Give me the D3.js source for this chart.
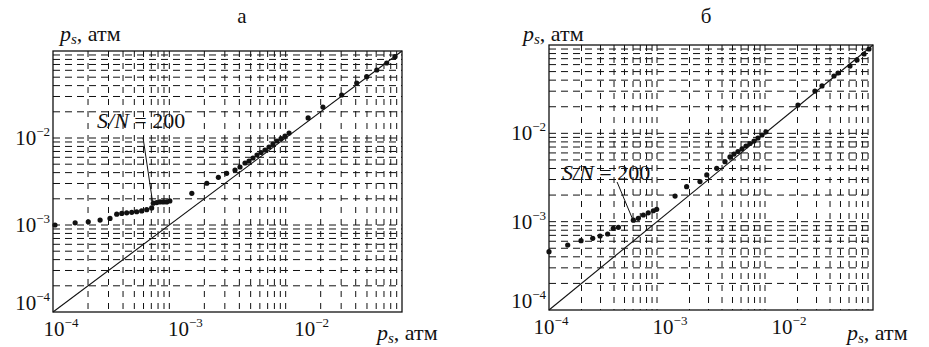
<!DOCTYPE html>
<html>
<head>
<meta charset="utf-8">
<script src="https://cdn.jsdelivr.net/npm/d3@7"></script>
<style>
  body { margin: 0; background: #fff; }
</style>
</head>
<body>
<div id="chart"></div>
<script>
var W = 929, H = 347;
var serif = "Liberation Serif";

// axis range and tick labels (both axes, both panels)
var domain = [1e-4, 1e-1];
var tickValues = [1e-4, 1e-3, 1e-2];
var tickExps = ["\u22124", "\u22123", "\u22122"];

// panel а: measured p_s (y) vs true p_s (x)
var aX = [1.04e-4, 1.55e-4, 2.01e-4, 2.54e-4, 3.09e-4, 3.53e-4, 3.90e-4, 4.30e-4, 4.75e-4, 5.24e-4,
  5.78e-4, 6.39e-4, 7.05e-4, 7.28e-4, 7.79e-4, 8.32e-4, 8.88e-4, 9.49e-4, 1.01e-3,
  1.56e-3, 2.10e-3, 2.64e-3, 3.11e-3, 3.67e-3,
  4.05e-3, 4.47e-3, 4.84e-3, 5.24e-3, 5.67e-3, 6.14e-3, 6.64e-3, 7.19e-3, 7.78e-3, 8.43e-3,
  9.12e-3, 9.87e-3, 1.07e-2, 1.56e-2, 2.09e-2, 3.03e-2, 4.08e-2, 4.97e-2, 6.07e-2, 7.39e-2, 8.71e-2];
var aY = [1.00e-3, 1.06e-3, 1.09e-3, 1.14e-3, 1.19e-3, 1.33e-3, 1.36e-3, 1.38e-3, 1.40e-3, 1.42e-3,
  1.45e-3, 1.50e-3, 1.57e-3, 1.78e-3, 1.81e-3, 1.84e-3, 1.84e-3, 1.84e-3, 1.89e-3,
  2.31e-3, 3.02e-3, 3.53e-3, 3.93e-3, 4.29e-3,
  4.64e-3, 5.16e-3, 5.44e-3, 5.89e-3, 6.38e-3, 6.81e-3, 7.28e-3, 7.88e-3, 8.53e-3, 9.24e-3,
  9.86e-3, 1.05e-2, 1.14e-2, 1.70e-2, 2.27e-2, 3.12e-2, 4.29e-2, 5.07e-2, 6.05e-2, 7.28e-2, 8.60e-2];

// panel б
var bX = [1.00e-4, 1.49e-4, 1.98e-4, 2.54e-4, 2.97e-4, 3.49e-4, 3.94e-4, 4.39e-4, 6.04e-4, 6.71e-4,
  7.47e-4, 8.30e-4, 9.25e-4, 9.93e-4, 1.47e-3, 1.88e-3, 2.50e-3, 2.89e-3, 3.57e-3, 4.26e-3,
  4.74e-3, 5.16e-3, 5.62e-3, 6.12e-3, 6.67e-3, 7.26e-3, 7.91e-3, 8.61e-3, 9.38e-3, 1.02e-2,
  2.02e-2, 2.90e-2, 3.37e-2, 4.35e-2, 4.74e-2, 6.12e-2, 7.11e-2, 8.26e-2, 9.18e-2];
var bY = [4.57e-4, 5.44e-4, 6.09e-4, 6.48e-4, 6.88e-4, 7.25e-4, 8.41e-4, 8.63e-4, 1.04e-3, 1.09e-3,
  1.19e-3, 1.26e-3, 1.33e-3, 1.38e-3, 1.95e-3, 2.49e-3, 2.84e-3, 3.38e-3, 4.02e-3, 4.78e-3,
  5.40e-3, 5.83e-3, 6.23e-3, 6.65e-3, 7.19e-3, 7.67e-3, 8.19e-3, 8.86e-3, 9.58e-3, 1.04e-2,
  2.09e-2, 3.01e-2, 3.44e-2, 4.46e-2, 4.82e-2, 5.78e-2, 6.76e-2, 7.91e-2, 9.01e-2];

var panels = [
  { name: "\u0430", xs: aX, ys: aY, left: 53, top: 51, right: 402, bottom: 312,
    labelDx: [8, 16, 26], yTitleX: 60, xTitleX: 377, titleX: 242,
    note: [2.39e-4, 1.3e-2], arrow: [[5.95e-4, 1e-2], [7.2e-4, 1.79e-3]] },
  { name: "\u0431", xs: bX, ys: bY, left: 549, top: 45, right: 873, bottom: 310,
    labelDx: [2, 13, 24], yTitleX: 523, xTitleX: 847, titleX: 706,
    note: [1.32e-4, 2.96e-3], arrow: [[4.27e-4, 2.81e-3], [6.0e-4, 1.04e-3]] }
];

var svg = d3.select("#chart").append("svg")
  .attr("width", W)
  .attr("height", H);

panels.forEach(function(p) {
  var x = d3.scaleLog().domain(domain).range([p.left, p.right]);
  var y = d3.scaleLog().domain(domain).range([p.bottom, p.top]);
  var g = svg.append("g");

  // dashed grid on every 1..9 x 10^k
  var gridVals = x.ticks().filter(function(v) { return v > domain[0] * 1.01 && v < domain[1] * 0.99; });
  g.selectAll(".vgrid").data(gridVals).enter().append("line")
    .attr("class", "vgrid")
    .attr("x1", function(d) { return x(d); })
    .attr("x2", function(d) { return x(d); })
    .attr("y1", p.top).attr("y2", p.bottom)
    .attr("stroke", "#111").attr("stroke-width", 1)
    .attr("stroke-dasharray", "6,6");
  g.selectAll(".hgrid").data(gridVals).enter().append("line")
    .attr("class", "hgrid")
    .attr("y1", function(d) { return y(d); })
    .attr("y2", function(d) { return y(d); })
    .attr("x1", p.left).attr("x2", p.right)
    .attr("stroke", "#111").attr("stroke-width", 1)
    .attr("stroke-dasharray", "7,5");

  // frame
  g.append("rect")
    .attr("x", p.left).attr("y", p.top)
    .attr("width", p.right - p.left).attr("height", p.bottom - p.top)
    .attr("fill", "none").attr("stroke", "#111").attr("stroke-width", 1.3);

  // y = x line
  g.append("line")
    .attr("x1", x(domain[0])).attr("y1", y(domain[0]))
    .attr("x2", x(domain[1])).attr("y2", y(domain[1]))
    .attr("stroke", "#111").attr("stroke-width", 1.1);

  // points
  g.selectAll(".dot").data(d3.range(p.xs.length)).enter().append("circle")
    .attr("class", "dot")
    .attr("cx", function(i) { return x(p.xs[i]); })
    .attr("cy", function(i) { return y(p.ys[i]); })
    .attr("r", 2.6)
    .attr("fill", "#111");

  // x tick labels
  var xl = g.selectAll(".xl").data(tickValues).enter().append("text")
    .attr("class", "xl")
    .attr("x", function(d, i) { return x(d) + p.labelDx[i]; })
    .attr("y", p.bottom + 24)
    .attr("text-anchor", "middle")
    .attr("font-family", serif)
    .attr("font-size", 21)
    .attr("fill", "#111");
  xl.append("tspan").text("10");
  xl.append("tspan").attr("dy", -9).attr("font-size", 13).text(function(d, i) { return tickExps[i]; });

  // y tick labels
  var yl = g.selectAll(".yl").data(tickValues).enter().append("text")
    .attr("class", "yl")
    .attr("x", p.left - 3)
    .attr("y", function(d, i) { return y(d) + 7 - (i === 0 ? 9 : 0); })
    .attr("text-anchor", "end")
    .attr("font-family", serif)
    .attr("font-size", 21)
    .attr("fill", "#111");
  yl.append("tspan").text("10");
  yl.append("tspan").attr("dy", -9).attr("font-size", 13).text(function(d, i) { return tickExps[i]; });

  // axis titles
  function axisTitle(tx, ty) {
    var t = g.append("text").attr("x", tx).attr("y", ty)
      .attr("font-family", serif).attr("font-size", 22).attr("fill", "#111");
    t.append("tspan").attr("font-style", "italic").text("p");
    t.append("tspan").attr("dy", 3).attr("font-style", "italic").attr("font-size", 15).text("s");
    t.append("tspan").attr("dy", -3).text(", \u0430\u0442\u043c");
  }
  axisTitle(p.yTitleX, 41);
  axisTitle(p.xTitleX, 340);

  // panel letter
  g.append("text").attr("x", p.titleX).attr("y", 23)
    .attr("text-anchor", "middle").attr("font-family", serif).attr("font-size", 21)
    .attr("fill", "#111").text(p.name);

  // S/N annotation
  var n = g.append("text").attr("x", x(p.note[0])).attr("y", y(p.note[1]))
    .attr("font-family", serif).attr("font-size", 22).attr("fill", "#111");
  n.append("tspan").attr("font-style", "italic").text("S/N");
  n.append("tspan").text(" = 200");
  g.append("line")
    .attr("x1", x(p.arrow[0][0])).attr("y1", y(p.arrow[0][1]))
    .attr("x2", x(p.arrow[1][0])).attr("y2", y(p.arrow[1][1]))
    .attr("stroke", "#111").attr("stroke-width", 1);
});
</script>
</body>
</html>
